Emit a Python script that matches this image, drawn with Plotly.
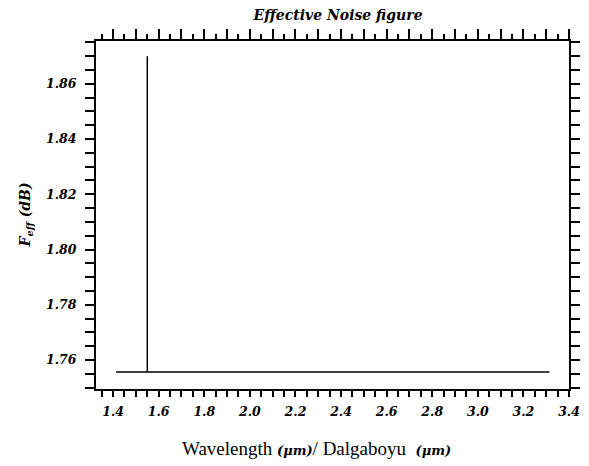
import plotly.graph_objects as go

# Data
wavelength_um = [1.413, 1.55, 1.55, 1.55, 3.314]
f_eff_db = [1.7557, 1.7557, 1.870, 1.7557, 1.7557]

x_range = [1.325, 3.4]
y_range = [1.7495, 1.8755]

title_text = "<b><i>Effective Noise figure</i></b>"
unit = "<span style='font-family:DejaVu Serif;font-size:13px'><b><i>(μm)</i></b></span>"
x_title = "Wavelength " + unit + "/ Dalgaboyu  " + unit
y_title = "<b><i>F<sub>eff</sub> (dB)</i></b>"

serif = "DejaVu Serif"
times = "Liberation Serif"

fig = go.Figure()
fig.add_trace(go.Scatter(x=wavelength_um, y=f_eff_db, mode="lines",
                         line=dict(color="black", width=1.5),
                         showlegend=False, hoverinfo="skip"))
fig.add_trace(go.Scatter(x=[x_range[0]], y=[y_range[0]], xaxis="x2", mode="markers",
                         marker=dict(opacity=0), showlegend=False, hoverinfo="skip"))

tickfont = dict(family=serif, size=12.5, color="black", weight="bold", style="italic")

fig.update_layout(
    width=589, height=466,
    margin=dict(l=96, r=9, t=41, b=77),
    paper_bgcolor="white", plot_bgcolor="white",
    title=dict(text=title_text, x=0.574, xanchor="center", y=1 - 15 / 466,
               yanchor="middle", yref="container",
               font=dict(family=serif, size=14, color="black")),
    xaxis=dict(range=x_range, tick0=1.4, dtick=0.2, tickformat=".1f",
               ticks="outside", ticklen=6, tickwidth=2, tickcolor="black",
               showline=True, linewidth=2, linecolor="black", mirror=True,
               showgrid=False, zeroline=False, tickfont=tickfont,
               ticklabelstandoff=4,
               minor=dict(tick0=1.4, dtick=0.05, ticks="outside", ticklen=6,
                          tickwidth=2, tickcolor="black", showgrid=False)),
    xaxis2=dict(range=x_range, overlaying="x", side="top", anchor="y",
                tick0=1.4, dtick=0.1, ticks="outside", ticklen=11, tickwidth=2,
                tickcolor="black", showticklabels=False, showgrid=False,
                zeroline=False, showline=False,
                minor=dict(tick0=1.4, dtick=0.05, ticks="outside", ticklen=6,
                           tickwidth=2, tickcolor="black", showgrid=False)),
    yaxis=dict(range=y_range, tick0=1.76, dtick=0.02, tickformat=".2f",
               ticks="outside", ticklen=9, tickwidth=2, tickcolor="black",
               showline=True, linewidth=2, linecolor="black", mirror="ticks",
               showgrid=False, zeroline=False, tickfont=tickfont,
               ticklabelstandoff=6,
               minor=dict(tick0=1.76, dtick=0.005, ticks="outside", ticklen=9,
                          tickwidth=2, tickcolor="black", showgrid=False)),
    annotations=[
        dict(text=x_title, xref="paper", yref="paper", x=0.467, y=-0.17,
             xanchor="center", yanchor="middle", showarrow=False,
             font=dict(family=times, size=19, color="black")),
        dict(text=y_title, xref="paper", yref="paper", x=-0.147, y=0.5,
             xanchor="center", yanchor="middle", textangle=-90, showarrow=False,
             font=dict(family=serif, size=14, color="black")),
    ],
)

fig.write_html("out.html")
